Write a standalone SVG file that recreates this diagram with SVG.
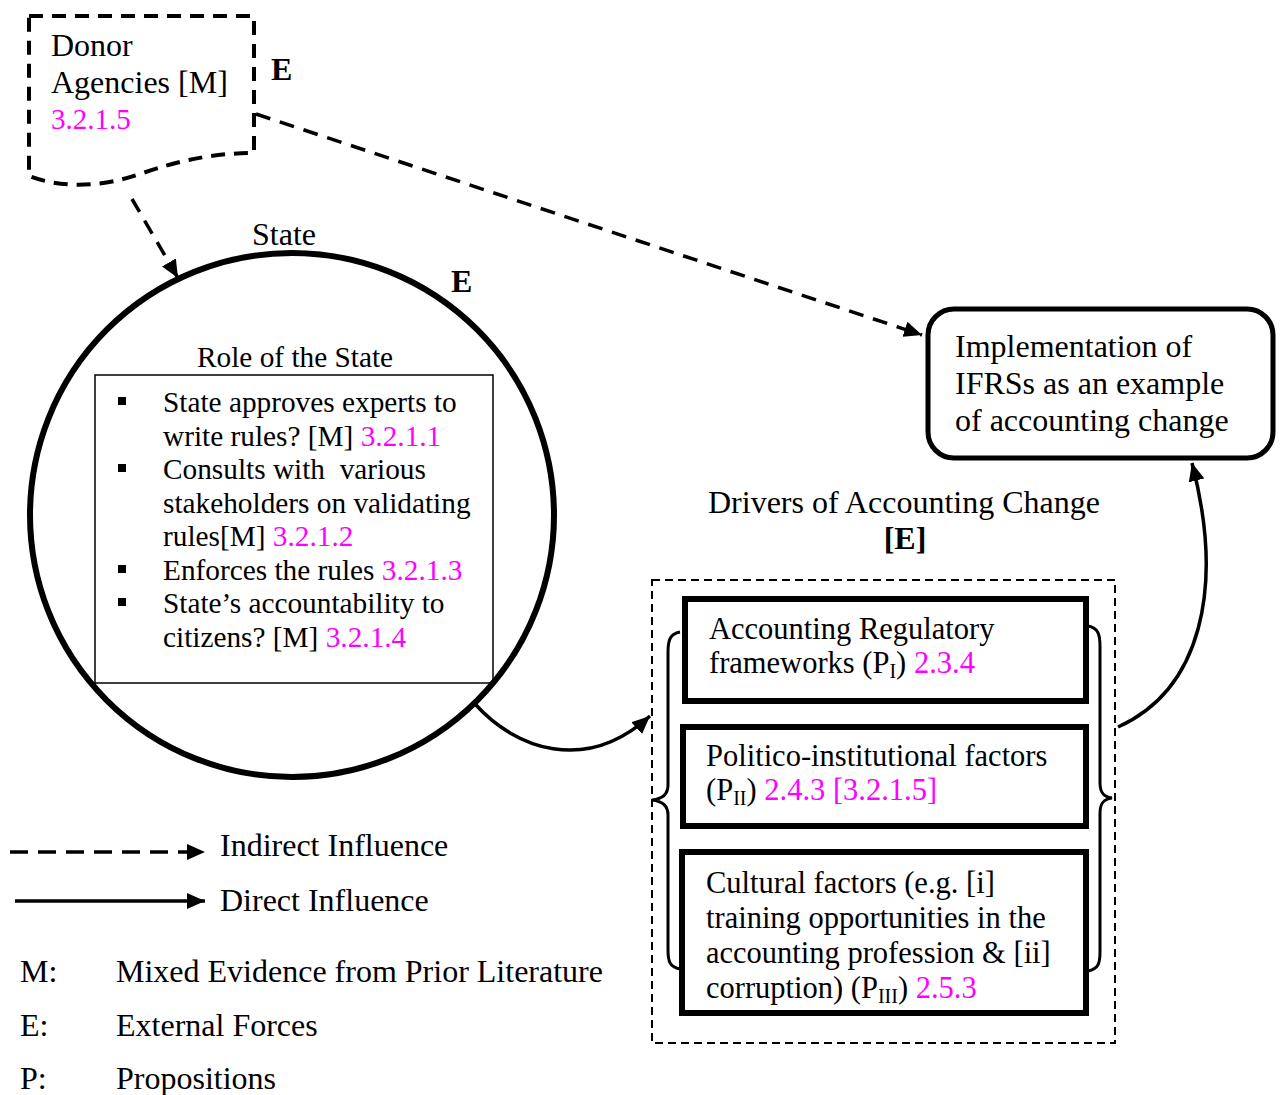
<svg xmlns="http://www.w3.org/2000/svg" width="1281" height="1095" viewBox="0 0 1281 1095">
  <style>
    text { font-family: "Liberation Serif", "Times New Roman", serif; fill: #000; }
    .t32 { font-size: 32px; }
    .t30 { font-size: 30.5px; }
    .t29 { font-size: 29.3px; }
    .bold { font-weight: bold; }
    .ref { fill: #FF00FF; }
    .sub { font-size: 20px; }
    .dash-conn { fill: none; stroke: #000; stroke-width: 3.5; stroke-dasharray: 15 10; }
    .solid-conn { fill: none; stroke: #000; stroke-width: 3.5; }
    .brace { fill: none; stroke: #000; stroke-width: 3; }
  </style>
  <defs>
    <marker id="arrow" markerUnits="userSpaceOnUse" markerWidth="20" markerHeight="16" refX="18" refY="8" orient="auto">
      <path d="M0,0 L18,8 L0,16 Z" fill="#000"/>
    </marker>
  </defs>

  <rect width="1281" height="1095" fill="#fff"/>

  <!-- Donor agencies (document shape, dashed) -->
  <g id="donor">
    <path d="M29,16 H254 V153 C215,153 180,160 140,174 C100,188 60,188 29,176 Z" fill="none" stroke="#000" stroke-width="4" stroke-dasharray="14 9"/>
    <text class="t32" x="51" y="56">Donor</text>
    <text class="t32" x="51" y="93">Agencies [M]</text>
    <text class="ref" x="51" y="129" font-size="29">3.2.1.5</text>
    <text class="t32 bold" x="271" y="80">E</text>
  </g>

  <!-- State circle with its role box -->
  <g id="state">
    <text class="t32" x="252" y="245">State</text>
    <text class="t32 bold" x="451" y="292">E</text>
    <circle cx="292" cy="515" r="262" fill="none" stroke="#000" stroke-width="6"/>
    <text class="t29" x="197" y="367">Role of the State</text>
    <rect x="95" y="375" width="398" height="308" fill="none" stroke="#000" stroke-width="1.5"/>
    <g fill="#000">
      <rect x="118" y="397" width="8" height="8"/>
      <rect x="118" y="464" width="8" height="8"/>
      <rect x="118" y="565" width="8" height="8"/>
      <rect x="118" y="598" width="8" height="8"/>
    </g>
    <text class="t29" x="163" y="412">State approves experts to</text>
    <text class="t29" x="163" y="446">write rules? [M] <tspan class="ref">3.2.1.1</tspan></text>
    <text class="t29" x="163" y="479" xml:space="preserve">Consults with  various</text>
    <text class="t29" x="163" y="513">stakeholders on validating</text>
    <text class="t29" x="163" y="546">rules[M] <tspan class="ref">3.2.1.2</tspan></text>
    <text class="t29" x="163" y="580">Enforces the rules <tspan class="ref">3.2.1.3</tspan></text>
    <text class="t29" x="163" y="613">State’s accountability to</text>
    <text class="t29" x="163" y="647">citizens? [M] <tspan class="ref">3.2.1.4</tspan></text>
  </g>

  <!-- Outcome -->
  <g id="implementation">
    <rect x="928" y="309" width="345" height="149" rx="26" ry="26" fill="#fff" stroke="#000" stroke-width="5"/>
    <text class="t32" x="955" y="357">Implementation of</text>
    <text class="t32" x="955" y="394">IFRSs as an example</text>
    <text class="t32" x="955" y="431">of accounting change</text>
  </g>

  <!-- Drivers of accounting change -->
  <g id="drivers">
    <text class="t32" x="708" y="513">Drivers of Accounting Change</text>
    <text class="t32 bold" x="905" y="549" text-anchor="middle">[E]</text>
    <rect x="652" y="580" width="463" height="463" fill="none" stroke="#000" stroke-width="2" stroke-dasharray="8 5"/>
    <path class="brace" d="M680,632 C670,634 668,640 668,652 V785 C668,795 662,799 652,800 C662,801 668,805 668,815 V950 C668,962 670,967 680,969"/>
    <path class="brace" d="M1088,626 C1098,628 1100,634 1100,646 V783 C1100,793 1104,797 1112,798 C1104,799 1100,803 1100,813 V952 C1100,964 1098,969 1088,971"/>
  </g>

  <g id="regulatory">
    <rect x="685" y="599" width="401" height="102" fill="#fff" stroke="#000" stroke-width="6"/>
    <text class="t30" x="709" y="639">Accounting Regulatory</text>
    <text class="t30" x="709" y="673">frameworks (P<tspan class="sub" dy="5">I</tspan><tspan dy="-5">) </tspan><tspan class="ref">2.3.4</tspan></text>
  </g>

  <g id="political">
    <rect x="683" y="727" width="403" height="99" fill="#fff" stroke="#000" stroke-width="6"/>
    <text class="t30" x="706" y="766">Politico-institutional factors</text>
    <text class="t30" x="706" y="800">(P<tspan class="sub" dy="5">II</tspan><tspan dy="-5">) </tspan><tspan class="ref">2.4.3 [3.2.1.5]</tspan></text>
  </g>

  <g id="cultural">
    <rect x="682" y="852" width="404" height="161" fill="#fff" stroke="#000" stroke-width="6"/>
    <text class="t30" x="706" y="893">Cultural factors (e.g. [i]</text>
    <text class="t30" x="706" y="928">training opportunities in the</text>
    <text class="t30" x="706" y="963">accounting profession &amp; [ii]</text>
    <text class="t30" x="706" y="998">corruption) (P<tspan class="sub" dy="5">III</tspan><tspan dy="-5">) </tspan><tspan class="ref">2.5.3</tspan></text>
  </g>

  <!-- Connectors -->
  <g id="connectors">
    <path class="dash-conn" d="M132,199 L178,278" marker-end="url(#arrow)"/>
    <path class="dash-conn" d="M256,114 L922,335" marker-end="url(#arrow)"/>
    <path class="solid-conn" d="M476,705 C515,748 585,775 650,716" marker-end="url(#arrow)"/>
    <path class="solid-conn" d="M1118,727 C1200,690 1225,590 1192,463" marker-end="url(#arrow)"/>
  </g>

  <!-- Legend -->
  <g id="legend">
    <path d="M10,852 H205" fill="none" stroke="#000" stroke-width="3.5" stroke-dasharray="18 10" marker-end="url(#arrow)"/>
    <text class="t32" x="220" y="856">Indirect Influence</text>
    <path d="M15,901 H205" fill="none" stroke="#000" stroke-width="3.5" marker-end="url(#arrow)"/>
    <text class="t32" x="220" y="911">Direct Influence</text>
    <text class="t32" x="20" y="982">M:</text>
    <text class="t32" x="116" y="982">Mixed Evidence from Prior Literature</text>
    <text class="t32" x="20" y="1036">E:</text>
    <text class="t32" x="116" y="1036">External Forces</text>
    <text class="t32" x="20" y="1089">P:</text>
    <text class="t32" x="116" y="1089">Propositions</text>
  </g>
</svg>
